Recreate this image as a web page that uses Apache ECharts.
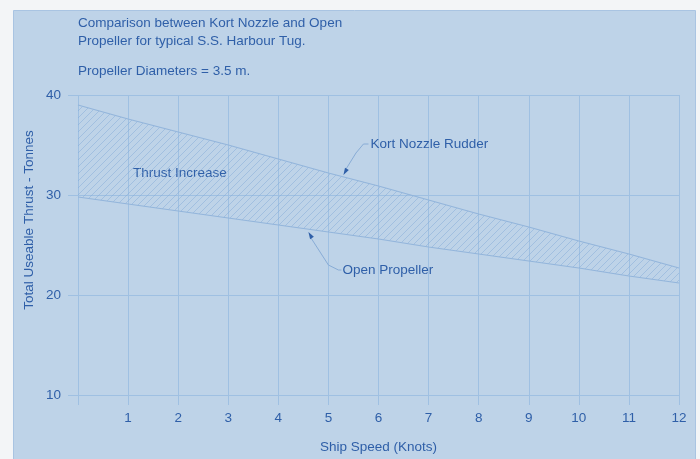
<!DOCTYPE html>
<html><head><meta charset="utf-8">
<script src="https://cdn.jsdelivr.net/npm/echarts@6/dist/echarts.min.js"></script>
<style>html,body{margin:0;padding:0;background:#f3f5f7;}#c{width:700px;height:459px;}</style>
</head><body><div id="c"></div>
<script>
const speeds = ['0','1','2','3','4','5','6','7','8','9','10','11','12'];
const kortNozzle = [39.0,37.6,36.3,35.0,33.6,32.2,30.9,29.5,28.1,26.8,25.4,24.1,22.7];
const openPropeller = [29.8,29.1,28.4,27.7,27.0,26.3,25.6,24.8,24.1,23.4,22.7,21.9,21.2];
const xTicks = ['1','2','3','4','5','6','7','8','9','10','11','12'];
const yTicks = [10,20,30,40];

const txt = '#2f5fa8';
const grid = '#9fc0e2';
const lineC = '#93b5db';
const font = 'Liberation Sans, Arial, sans-serif';
const fs = 13.5;

const S = 7;
const pc = document.createElement('canvas');
pc.width = S; pc.height = S;
const g = pc.getContext('2d');
g.strokeStyle = 'rgba(128,168,214,0.6)';
g.lineWidth = 0.8;
g.beginPath();
g.moveTo(0,S); g.lineTo(S,0);
g.moveTo(-1,1); g.lineTo(1,-1);
g.moveTo(S-1,S+1); g.lineTo(S+1,S-1);
g.stroke();

const diff = kortNozzle.map((v,i)=>+(v-openPropeller[i]).toFixed(2));

const chart = echarts.init(document.getElementById('c'));
chart.setOption({
  backgroundColor: '#f3f5f7',
  animation: false,
  grid: {left: 78, right: 21, top: 95, bottom: 62},
  xAxis: {
    type: 'category', data: speeds, boundaryGap: false,
    name: 'Ship Speed (Knots)', nameLocation: 'middle', nameGap: 45,
    nameTextStyle: {color: txt, fontSize: fs, fontFamily: font},
    axisLine: {show: false},
    axisTick: {show: true, length: 10, interval: 0, lineStyle: {color: grid, width: 1}},
    axisLabel: {color: txt, fontSize: fs, fontFamily: font, margin: 16, interval: 0,
      formatter: v => xTicks.includes(v) ? v : ''},
    splitLine: {show: true, interval: 0, lineStyle: {color: grid, width: 1}}
  },
  yAxis: {
    type: 'value', min: 10, max: 40, interval: 10,
    axisLine: {show: false},
    axisTick: {show: true, length: 10, lineStyle: {color: grid, width: 1}},
    axisLabel: {color: txt, fontSize: fs, fontFamily: font, margin: 17,
      formatter: v => yTicks.includes(v) ? String(v) : ''},
    splitLine: {show: true, lineStyle: {color: grid, width: 1}}
  },
  series: [
    {type: 'line', name: 'Open Propeller', stack: 'a', symbol: 'none',
     data: openPropeller,
     lineStyle: {color: lineC, width: 1.2}},
    {type: 'line', name: 'Kort Nozzle Rudder', stack: 'a', symbol: 'none',
     data: diff,
     lineStyle: {color: lineC, width: 1.2},
     areaStyle: {color: {image: pc, repeat: 'repeat'}, opacity: 1}}
  ]
});

const X0 = chart.convertToPixel({gridIndex:0}, [0, 10])[0];
const X12 = chart.convertToPixel({gridIndex:0}, [12, 10])[0];
function P(x,y){ return [X0 + (X12-X0)*x/12, chart.convertToPixel({gridIndex:0}, [0,y])[1]]; }
const kA = P(5.3, 32.0), kB = P(5.55, 34.2), kC = P(5.7, 35.1);
const oA = P(4.6, 26.3), oB = P(5.0, 23.0), oC = P(5.2, 22.5);
function arrow(tip, from){
  const ang = Math.atan2(tip[1]-from[1], tip[0]-from[0]);
  const L = 7, W = 2.2;
  const bx = tip[0]-L*Math.cos(ang), by = tip[1]-L*Math.sin(ang);
  return {type:'polygon', shape:{points:[tip,[bx+W*Math.sin(ang), by-W*Math.cos(ang)],[bx-W*Math.sin(ang), by+W*Math.cos(ang)]]}, style:{fill:txt}};
}
chart.setOption({
  graphic: [
    {type:'rect', shape:{x:13.5,y:10.5,width:682,height:460}, style:{fill:'#bed3e8', stroke:'#a9c4e2', lineWidth:1}, z:-10, silent:true},
    {type:'text', left:78, top:14, style:{text:'Comparison between Kort Nozzle and Open\nPropeller for typical S.S. Harbour Tug.', fill:txt, font:fs+'px '+font, lineHeight:18}},
    {type:'text', left:78, top:64, style:{text:'Propeller Diameters = 3.5 m.', fill:txt, font:fs+'px '+font}},
    {type:'text', x:29, y:220, rotation:Math.PI/2, style:{text:'Total Useable Thrust - Tonnes', fill:txt, font:fs+'px '+font, align:'center', verticalAlign:'middle'}},
    {type:'text', x:P(1.1,0)[0], y:P(0,32.2)[1], style:{text:'Thrust Increase', fill:txt, font:fs+'px '+font, verticalAlign:'middle'}},
    {type:'text', x:P(5.84,0)[0], y:P(0,35.1)[1], style:{text:'Kort Nozzle Rudder', fill:txt, font:fs+'px '+font, verticalAlign:'middle'}},
    {type:'text', x:P(5.28,0)[0], y:P(0,22.5)[1], style:{text:'Open Propeller', fill:txt, font:fs+'px '+font, verticalAlign:'middle'}},
    {type:'polyline', shape:{points:[[kC[0]+5,kC[1]],kC,kB,[kA[0]+2,kA[1]-5]]}, style:{stroke:'#88acd6', lineWidth:1, fill:null}},
    arrow(kA, kB),
    {type:'polyline', shape:{points:[[oC[0]+3,oC[1]],oC,oB,[oA[0]+2,oA[1]+5]]}, style:{stroke:'#88acd6', lineWidth:1, fill:null}},
    arrow(oA, oB)
  ]
});
</script></body></html>
